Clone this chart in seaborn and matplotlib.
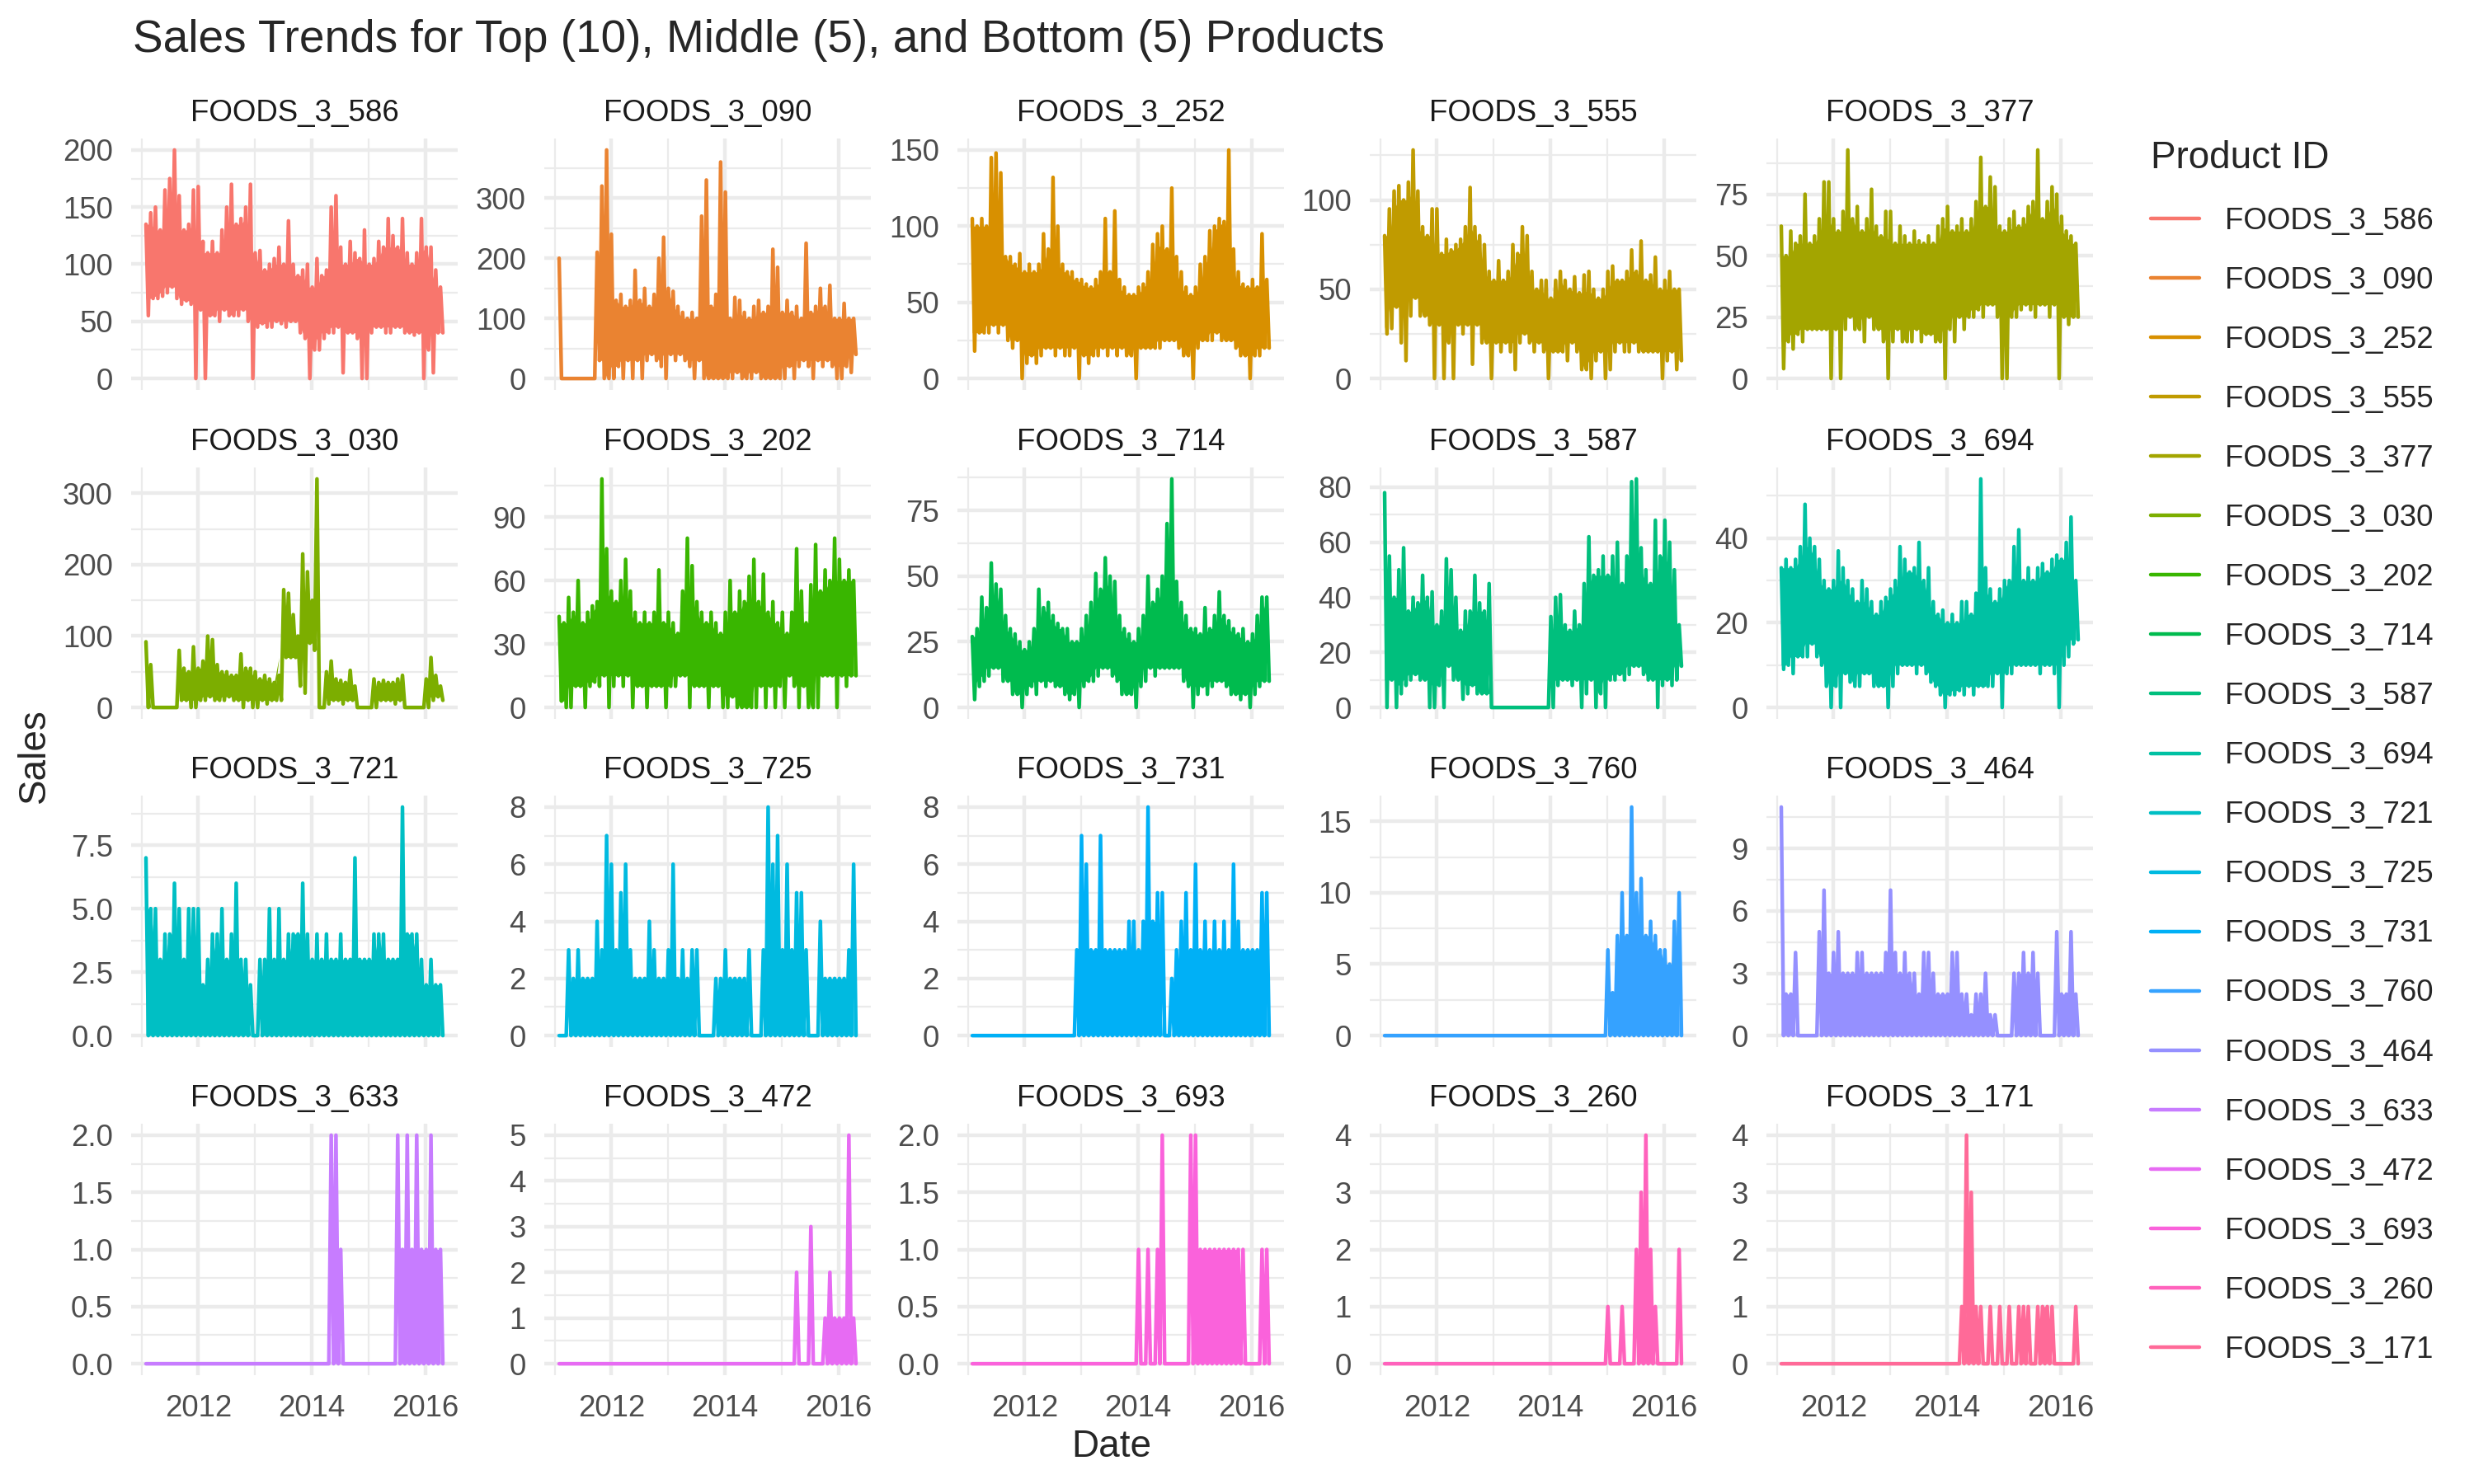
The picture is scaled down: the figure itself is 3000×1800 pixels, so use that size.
# Sales trends small multiples: top (10), middle (5) and bottom (5) products

import numpy as np
import pandas as pd
import matplotlib
matplotlib.use("Agg")
import matplotlib.pyplot as plt
import matplotlib.colors as mcolors
from matplotlib.lines import Line2D
import seaborn as sns

# Product ids in facet order (row by row)
ITEMS = ["FOODS_3_586", "FOODS_3_090", "FOODS_3_252", "FOODS_3_555", "FOODS_3_377",
         "FOODS_3_030", "FOODS_3_202", "FOODS_3_714", "FOODS_3_587", "FOODS_3_694",
         "FOODS_3_721", "FOODS_3_725", "FOODS_3_731", "FOODS_3_760", "FOODS_3_464",
         "FOODS_3_633", "FOODS_3_472", "FOODS_3_693", "FOODS_3_260", "FOODS_3_171"]

# Daily sales, one high and one low value per month
# (Feb 2011 .. Apr 2016, 63 months; lines are 2011 / 2012 / ... / 2016)
hi_586 = [135, 145, 150, 130, 165, 175, 200, 160, 130, 135, 165,
          168, 120, 110, 120, 110, 130, 150, 170, 135, 140, 150, 170,
          110, 112, 95, 100, 105, 115, 100, 138, 100, 90, 95, 100,
          80, 105, 90, 95, 150, 160, 115, 100, 120, 110, 105, 130,
          100, 105, 120, 115, 140, 125, 115, 140, 110, 100, 110, 140,
          115, 115, 95, 80]
lo_586 = [55, 70, 70, 72, 75, 80, 70, 65, 68, 65, 0,
          60, 0, 55, 55, 50, 60, 55, 55, 55, 60, 50, 0,
          45, 48, 45, 45, 50, 48, 45, 50, 50, 40, 35, 0,
          25, 25, 35, 40, 40, 45, 5, 40, 40, 35, 0, 0,
          40, 45, 45, 40, 40, 45, 45, 40, 40, 38, 40, 0,
          25, 5, 40, 40]

hi_090 = [200, 0, 0, 0, 0, 0, 0, 0, 210, 320, 380,
          240, 130, 140, 120, 130, 180, 130, 150, 120, 140, 200, 235,
          150, 145, 120, 110, 100, 110, 100, 270, 330, 120, 140, 360,
          310, 100, 135, 130, 110, 100, 120, 130, 110, 120, 215, 185,
          110, 130, 110, 120, 100, 225, 110, 120, 150, 120, 155, 100,
          100, 125, 100, 100]
lo_090 = [0, 0, 0, 0, 0, 0, 0, 0, 30, 0, 0,
          0, 20, 0, 30, 0, 30, 0, 30, 40, 30, 20, 0,
          40, 30, 40, 30, 20, 0, 30, 0, 0, 0, 0, 0,
          0, 0, 10, 0, 0, 0, 10, 0, 0, 0, 0, 0,
          0, 20, 0, 20, 30, 20, 0, 30, 20, 30, 20, 0,
          0, 20, 10, 40]

hi_252 = [105, 100, 105, 100, 145, 148, 135, 80, 80, 75, 82,
          70, 75, 70, 75, 95, 85, 132, 100, 75, 70, 70, 65,
          65, 62, 60, 65, 70, 105, 70, 110, 65, 60, 55, 55,
          60, 62, 70, 88, 95, 100, 85, 125, 80, 70, 60, 55,
          60, 75, 80, 97, 100, 105, 103, 150, 85, 70, 62, 60,
          65, 60, 95, 65]
lo_252 = [18, 30, 30, 30, 35, 30, 35, 25, 20, 25, 0,
          10, 15, 10, 15, 20, 20, 15, 20, 15, 15, 20, 0,
          15, 10, 15, 15, 20, 15, 20, 15, 20, 15, 15, 0,
          20, 20, 20, 20, 20, 25, 25, 25, 20, 15, 15, 0,
          20, 25, 25, 25, 30, 25, 25, 25, 20, 15, 15, 0,
          15, 15, 20, 20]

hi_555 = [80, 95, 105, 108, 100, 110, 128, 105, 85, 80, 95,
          95, 70, 78, 72, 75, 78, 85, 107, 85, 80, 75, 60,
          55, 66, 55, 60, 75, 70, 85, 80, 60, 50, 55, 55,
          45, 55, 60, 55, 50, 57, 48, 58, 60, 50, 45, 50,
          60, 63, 55, 55, 60, 72, 60, 77, 55, 58, 68, 50,
          55, 60, 50, 50]
lo_555 = [25, 28, 40, 20, 10, 35, 45, 35, 35, 30, 0,
          30, 0, 20, 0, 30, 25, 30, 8, 30, 20, 20, 0,
          20, 15, 20, 15, 5, 20, 25, 20, 15, 20, 15, 0,
          15, 15, 15, 10, 20, 15, 5, 5, 0, 10, 15, 0,
          5, 15, 20, 15, 15, 20, 15, 15, 15, 15, 15, 0,
          10, 15, 5, 10]

hi_377 = [62, 50, 60, 55, 58, 75, 55, 58, 65, 80, 80,
          65, 60, 68, 93, 65, 70, 60, 65, 77, 62, 58, 68,
          68, 55, 62, 58, 55, 60, 56, 55, 58, 55, 62, 65,
          70, 60, 62, 65, 60, 65, 72, 90, 70, 82, 78, 62,
          60, 65, 68, 62, 65, 70, 72, 93, 65, 72, 78, 75,
          66, 60, 58, 55]
lo_377 = [4, 15, 12, 18, 15, 20, 20, 20, 20, 20, 0,
          20, 0, 20, 25, 20, 20, 15, 25, 20, 20, 15, 0,
          15, 20, 15, 15, 15, 20, 15, 18, 18, 15, 15, 0,
          20, 15, 25, 20, 25, 25, 28, 25, 30, 30, 25, 0,
          0, 25, 25, 28, 30, 28, 25, 30, 30, 25, 30, 0,
          25, 22, 25, 25]

hi_030 = [92, 60, 0, 0, 0, 0, 0, 80, 55, 50, 85,
          55, 65, 100, 95, 60, 50, 50, 45, 45, 75, 55, 55,
          50, 40, 45, 40, 35, 45, 165, 160, 130, 100, 215, 190,
          150, 320, 0, 50, 65, 40, 38, 35, 52, 30, 0, 0,
          0, 40, 35, 38, 35, 35, 40, 45, 0, 0, 0, 0,
          40, 70, 45, 30]
lo_030 = [0, 0, 0, 0, 0, 0, 0, 10, 10, 0, 0,
          10, 10, 15, 10, 10, 10, 15, 10, 10, 0, 10, 0,
          0, 10, 5, 10, 10, 10, 70, 70, 70, 30, 20, 90,
          80, 0, 0, 5, 10, 10, 5, 10, 10, 0, 0, 0,
          0, 0, 10, 10, 10, 5, 10, 0, 0, 0, 0, 0,
          0, 10, 15, 10]

hi_202 = [43, 40, 52, 45, 60, 40, 45, 48, 50, 108, 75,
          55, 50, 60, 70, 55, 45, 40, 45, 40, 45, 65, 40,
          45, 40, 35, 55, 80, 67, 50, 45, 40, 45, 40, 35,
          45, 60, 45, 55, 50, 62, 70, 50, 63, 45, 50, 40,
          45, 35, 45, 75, 55, 40, 58, 77, 55, 65, 60, 80,
          70, 60, 65, 60]
lo_202 = [3, 0, 0, 10, 10, 0, 10, 12, 10, 15, 0,
          10, 15, 10, 15, 0, 10, 10, 0, 10, 10, 10, 0,
          10, 10, 15, 15, 0, 10, 10, 10, 0, 10, 10, 0,
          0, 5, 0, 0, 0, 0, 0, 10, 0, 10, 0, 10,
          0, 15, 10, 0, 10, 0, 0, 0, 15, 15, 15, 0,
          15, 10, 15, 15]

hi_714 = [27, 30, 42, 38, 55, 47, 45, 35, 30, 28, 25,
          22, 25, 30, 45, 38, 40, 35, 32, 30, 30, 25, 25,
          30, 35, 40, 51, 45, 57, 50, 48, 35, 30, 28, 25,
          30, 35, 50, 40, 45, 50, 70, 87, 48, 40, 35, 30,
          30, 28, 38, 30, 35, 44, 35, 33, 30, 28, 30, 25,
          28, 35, 42, 42]
lo_714 = [3, 8, 10, 12, 15, 15, 10, 10, 5, 5, 0,
          5, 8, 5, 10, 8, 10, 8, 8, 5, 3, 5, 0,
          8, 10, 10, 12, 15, 15, 12, 10, 5, 5, 5, 0,
          8, 10, 15, 12, 15, 15, 15, 15, 15, 10, 8, 0,
          5, 8, 5, 8, 10, 10, 8, 5, 5, 3, 5, 0,
          5, 8, 10, 10]

hi_587 = [78, 55, 40, 50, 58, 35, 40, 38, 48, 40, 42,
          30, 35, 54, 50, 40, 28, 35, 35, 48, 38, 35, 45,
          0, 0, 0, 0, 0, 0, 0, 0, 0, 0, 0, 0,
          33, 40, 41, 30, 28, 35, 30, 45, 62, 48, 50, 55,
          48, 55, 60, 45, 55, 82, 83, 58, 50, 45, 68, 55,
          68, 60, 50, 30]
lo_587 = [0, 10, 0, 5, 8, 10, 12, 10, 10, 0, 0,
          8, 0, 15, 10, 10, 3, 5, 8, 5, 5, 5, 0,
          0, 0, 0, 0, 0, 0, 0, 0, 0, 0, 0, 0,
          0, 8, 10, 10, 8, 10, 0, 5, 10, 0, 5, 0,
          10, 10, 12, 10, 12, 15, 15, 12, 10, 10, 0, 8,
          10, 8, 10, 15]

hi_694 = [33, 35, 33, 35, 38, 48, 40, 38, 35, 30, 28,
          30, 37, 33, 30, 28, 25, 30, 28, 25, 22, 25, 26,
          28, 30, 38, 35, 32, 33, 39, 30, 33, 25, 22, 23,
          20, 22, 20, 25, 25, 22, 27, 54, 33, 28, 25, 28,
          30, 30, 38, 42, 30, 33, 30, 33, 34, 32, 35, 36,
          35, 39, 45, 30]
lo_694 = [9, 10, 8, 12, 12, 12, 15, 12, 10, 5, 0,
          5, 0, 8, 6, 5, 5, 8, 8, 5, 5, 5, 0,
          5, 8, 10, 10, 10, 8, 10, 8, 6, 5, 3, 0,
          3, 3, 4, 3, 5, 3, 5, 5, 5, 5, 8, 0,
          8, 8, 10, 10, 10, 10, 10, 8, 10, 10, 8, 0,
          10, 12, 15, 16]

hi_721 = [7, 5, 5, 3, 4, 4, 6, 5, 3, 5, 5,
          5, 2, 3, 4, 4, 5, 3, 4, 6, 3, 3, 2,
          0, 3, 3, 5, 3, 5, 3, 4, 4, 4, 6, 4,
          3, 4, 3, 4, 3, 3, 4, 3, 3, 7, 3, 3,
          3, 4, 4, 4, 3, 3, 3, 9, 4, 4, 4, 3,
          2, 3, 2, 2]
lo_721 = [0] * 63

hi_725 = [0, 0, 3, 2, 3, 2, 2, 2, 4, 3, 7,
          6, 3, 5, 6, 3, 2, 2, 2, 4, 3, 2, 2,
          3, 6, 2, 3, 2, 3, 3, 0, 0, 0, 2, 2,
          3, 2, 2, 2, 2, 3, 0, 0, 3, 8, 6, 7,
          3, 6, 3, 5, 5, 3, 0, 0, 4, 2, 2, 2,
          2, 2, 3, 6]
lo_725 = [0] * 63

hi_731 = ([0] * 22 + [3] +
          [7, 6, 3, 3, 7, 3, 3, 3, 3, 3, 4, 4] +
          [3, 4, 8, 4, 5, 5, 0, 2, 3, 4, 5, 3] +
          [6, 3, 4, 3, 4, 3, 4, 3, 6, 4, 3, 3] +
          [3, 3, 5, 5])
lo_731 = [0] * 63

hi_760 = ([0] * 47 +
          [6, 3, 7, 10, 7, 16, 10, 11, 7, 8, 7, 6] +
          [6, 5, 8, 10])
lo_760 = [0] * 63

hi_464 = [11, 2, 2, 4, 0, 0, 0, 0, 5, 7, 3,
          4, 5, 3, 3, 3, 4, 4, 3, 3, 3, 3, 4,
          7, 4, 3, 4, 3, 3, 2, 4, 4, 3, 2, 2,
          2, 4, 4, 2, 2, 1, 2, 2, 3, 1, 1, 0,
          0, 0, 3, 3, 4, 3, 4, 3, 0, 0, 0, 5,
          2, 2, 5, 2]
lo_464 = [0] * 63

hi_633 = [0] * 39 + [2, 2, 1] + [0] * 11 + [2, 1, 2, 1, 2, 1] + [1, 2, 1, 1]
lo_633 = [0] * 63

hi_472 = [0] * 47 + [0, 0, 0, 2, 0, 0, 3, 0, 0, 1, 2, 1] + [1, 1, 5, 1]
lo_472 = [0] * 63

hi_693 = ([0] * 35 +
          [1, 0, 1, 0, 1, 2, 0, 0, 0, 0, 0, 2] +
          [2, 1, 1, 1, 1, 1, 1, 1, 1, 1, 1, 0] +
          [0, 0, 1, 1])
lo_693 = [0] * 63

hi_260 = [0] * 47 + [1, 0, 0, 1, 0, 0, 2, 3, 4, 2, 1, 0] + [0, 0, 0, 2]
lo_260 = [0] * 63

hi_171 = ([0] * 35 +
          [0, 0, 0, 1, 4, 3, 1, 1, 0, 1, 0, 1] +
          [0, 1, 0, 1, 1, 1, 0, 1, 1, 1, 1, 0] +
          [0, 0, 0, 1])
lo_171 = [0] * 63

# y axis breaks per facet (free scales)
YTICKS = {
    "FOODS_3_586": [0, 50, 100, 150, 200], "FOODS_3_090": [0, 100, 200, 300],
    "FOODS_3_252": [0, 50, 100, 150], "FOODS_3_555": [0, 50, 100],
    "FOODS_3_377": [0, 25, 50, 75], "FOODS_3_030": [0, 100, 200, 300],
    "FOODS_3_202": [0, 30, 60, 90], "FOODS_3_714": [0, 25, 50, 75],
    "FOODS_3_587": [0, 20, 40, 60, 80], "FOODS_3_694": [0, 20, 40],
    "FOODS_3_721": [0, 2.5, 5, 7.5], "FOODS_3_725": [0, 2, 4, 6, 8],
    "FOODS_3_731": [0, 2, 4, 6, 8], "FOODS_3_760": [0, 5, 10, 15],
    "FOODS_3_464": [0, 3, 6, 9], "FOODS_3_633": [0, 0.5, 1, 1.5, 2],
    "FOODS_3_472": [0, 1, 2, 3, 4, 5], "FOODS_3_693": [0, 0.5, 1, 1.5, 2],
    "FOODS_3_260": [0, 1, 2, 3, 4], "FOODS_3_171": [0, 1, 2, 3, 4],
}

HI = {it: globals()["hi_" + it[-3:]] for it in ITEMS}
LO = {it: globals()["lo_" + it[-3:]] for it in ITEMS}
assert all(len(HI[it]) == 63 and len(LO[it]) == 63 for it in ITEMS)

START, END = pd.Timestamp("2011-01-29"), pd.Timestamp("2016-04-24")
dates = pd.date_range(START, END, periods=126)

frames = []
for it in ITEMS:
    vals = np.empty(126)
    vals[0::2] = HI[it]
    vals[1::2] = LO[it]
    frames.append(pd.DataFrame({"date": dates, "item": it, "sales": vals}))
sales = pd.concat(frames, ignore_index=True)


def hcl_hex(h, c=100.0, l=65.0):
    # ggplot2 default hue palette colour (polar LUV -> sRGB)
    hr = np.deg2rad(h)
    u, v = c * np.cos(hr), c * np.sin(hr)
    xn, yn, zn = 95.047, 100.0, 108.883
    y = yn * ((l + 16) / 116) ** 3
    den = xn + 15 * yn + 3 * zn
    up = u / (13 * l) + 4 * xn / den
    vp = v / (13 * l) + 9 * yn / den
    x = 9 * y * up / (4 * vp)
    z = y * (12 - 3 * up - 20 * vp) / (4 * vp)
    m = np.array([[3.2404542, -1.5371385, -0.4985314],
                  [-0.9692660, 1.8760108, 0.0415560],
                  [0.0556434, -0.2040259, 1.0572252]])
    rgb = m @ (np.array([x, y, z]) / 100)
    rgb = np.where(rgb <= 0.0031308, 12.92 * rgb,
                   1.055 * np.power(np.clip(rgb, 0, None), 1 / 2.4) - 0.055)
    return mcolors.to_hex(np.clip(rgb, 0, 1))


palette = {it: hcl_hex(15 + 18 * i) for i, it in enumerate(ITEMS)}

sns.set_theme(style="white")
plt.rcParams["font.family"] = ["Liberation Sans", "DejaVu Sans"]

W, H = 3000, 1800
fig = plt.figure(figsize=(10, 6), dpi=300)

col_left = [159, 660, 1161, 1661, 2142]
row_top = [168, 567, 965, 1363]
pw, ph = 396, 305
pad_days = (END - START).days * 0.05
xlim = (START - pd.Timedelta(days=pad_days), END + pd.Timedelta(days=pad_days))
grid_c = "#EBEBEB"
tick_c = "#4D4D4D"

for i, it in enumerate(ITEMS):
    r, c = divmod(i, 5)
    ax = fig.add_axes([col_left[c] / W, 1 - (row_top[r] + ph) / H, pw / W, ph / H])
    sub = sales[sales["item"] == it]
    # daily data is so dense it reads as a solid band: shade the core range
    # (highest nearby low to lowest nearby high); spikes and dips stay as lines
    core_lo = pd.Series(LO[it]).rolling(3, center=True, min_periods=1).max()
    core_hi = pd.Series(HI[it]).rolling(3, center=True, min_periods=1).min()
    core_hi = np.maximum(core_hi, core_lo)
    ax.fill_between(dates[0::2], core_lo, core_hi, color=palette[it], linewidth=0)
    sns.lineplot(data=sub, x="date", y="sales", color=palette[it], linewidth=1.07,
                 estimator=None, ax=ax)
    ymax = sub["sales"].max()
    ax.set_ylim(-0.05 * ymax, 1.05 * ymax)
    ax.set_xlim(*xlim)

    yt = YTICKS[it]
    step = yt[1] - yt[0]
    ax.set_yticks(yt)
    if any(float(t) != int(t) for t in yt):
        ax.set_yticklabels([f"{t:.1f}" for t in yt])
    else:
        ax.set_yticklabels([f"{int(t)}" for t in yt])
    minor = [yt[0] + step / 2 + k * step for k in range(-1, len(yt))]
    ax.set_yticks([m for m in minor if -0.05 * ymax < m < 1.05 * ymax], minor=True)

    ax.set_xticks([pd.Timestamp(f"{y}-01-01") for y in (2012, 2014, 2016)])
    ax.set_xticks([pd.Timestamp(f"{y}-01-01") for y in (2011, 2013, 2015)], minor=True)
    ax.set_xticklabels(["2012", "2014", "2016"])

    ax.grid(which="major", color=grid_c, linewidth=1.07)
    ax.grid(which="minor", color=grid_c, linewidth=0.53)
    ax.set_axisbelow(True)
    for s in ax.spines.values():
        s.set_visible(False)
    ax.tick_params(which="both", length=0, labelsize=8.8, labelcolor=tick_c)
    ax.tick_params(axis="y", pad=5.3)
    ax.tick_params(axis="x", pad=5.5, labelbottom=(r == 3))
    ax.set_xlabel("")
    ax.set_ylabel("")
    ax.set_title(it, fontsize=8.8, color="#1A1A1A", pad=5.1)

fig.text(161 / W, 1 - 63 / H, "Sales Trends for Top (10), Middle (5), and Bottom (5) Products",
         fontsize=13.2, va="baseline", ha="left")
fig.text(1348 / W, 1 - 1767 / H, "Date", fontsize=11, ha="center", va="baseline")
fig.text(42 / W, 1 - 917 / H, "Sales", fontsize=11, rotation=90, ha="center", va="center")

handles = [Line2D([], [], color=palette[it], linewidth=1.07) for it in ITEMS]
fig.legend(handles, ITEMS, loc="upper left", bbox_to_anchor=(2608 / W, 1 - 170 / H),
           frameon=False, title="Product ID", title_fontsize=11, fontsize=8.8,
           handlelength=1.6, handletextpad=0.85, labelspacing=1.01,
           borderpad=0, borderaxespad=0, alignment="left")

fig.savefig("out.png", dpi=300, facecolor="white")
